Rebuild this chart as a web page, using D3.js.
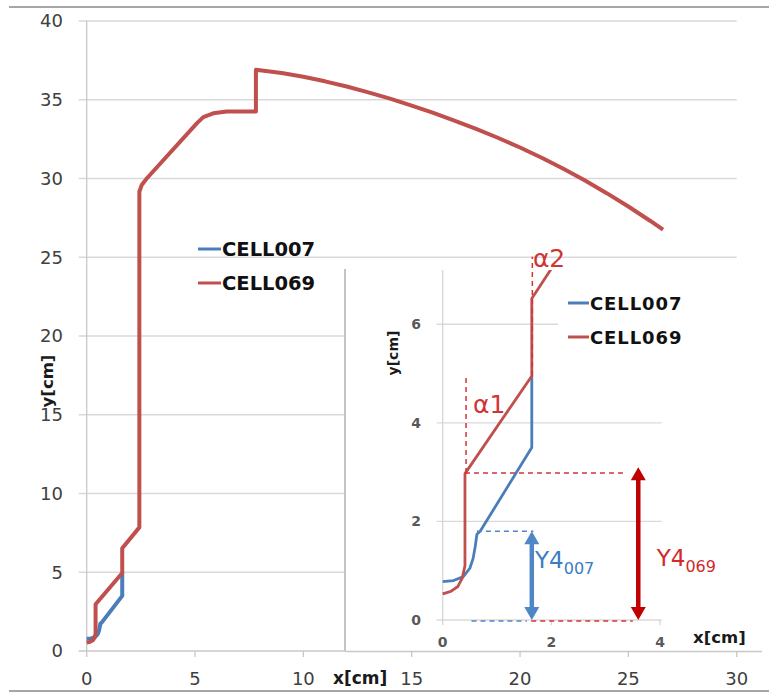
<!DOCTYPE html>
<html><head><meta charset="utf-8">
<script src="https://cdn.jsdelivr.net/npm/d3@7"></script>
<style>body{margin:0;background:#fff}svg{display:block}</style>
</head><body>
<script>
// ---- data (x[cm], y[cm]) ----
const cell069X = [0, 0.15, 0.28, 0.36, 0.41, 0.41, 1.64, 1.64, 2.43, 2.43, 2.54, 2.77, 5.08, 5.38, 5.84, 6.46, 7.81, 7.81, 9, 10, 11, 12, 13, 14, 15, 16, 17, 18, 19, 20, 21, 22, 23, 24, 25, 26, 26.6];
const cell069Y = [0.53, 0.58, 0.68, 0.85, 1.1, 2.97, 4.95, 6.52, 7.85, 29.16, 29.59, 30.0, 33.5, 33.9, 34.14, 34.25, 34.25, 36.9, 36.7, 36.46, 36.17, 35.84, 35.47, 35.07, 34.63, 34.16, 33.66, 33.13, 32.57, 31.97, 31.32, 30.62, 29.87, 29.07, 28.22, 27.32, 26.75];
const cell007X = [0, 0.2, 0.38, 0.5, 0.56, 0.6, 0.63, 0.69, 1.64, 1.64];
const cell007Y = [0.78, 0.8, 0.88, 1.05, 1.25, 1.5, 1.74, 1.8, 3.5, 4.95];
const seriesNames = ["CELL007", "CELL069"];
const mainXTicks = [0, 5, 10, 15, 20, 25, 30];
const mainYTicks = [0, 5, 10, 15, 20, 25, 30, 35, 40];
const insetXTicks = [0, 2, 4];
const insetYTicks = [0, 2, 4, 6];

const W = 769, H = 692;
const RED = "#c0504d", BLUE = "#4a7ebb";
const svg = d3.select("body").append("svg").attr("width", W).attr("height", H);
svg.append("rect").attr("width", W).attr("height", H).attr("fill", "#fff");
const font = "DejaVu Sans, Verdana, sans-serif";

// frame lines
svg.append("line").attr("x1", 9).attr("x2", W).attr("y1", 7).attr("y2", 7).attr("stroke", "#a6a6a6").attr("stroke-width", 2);
svg.append("line").attr("x1", 9).attr("x2", W).attr("y1", 691).attr("y2", 691).attr("stroke", "#a6a6a6").attr("stroke-width", 2);

const s007 = cell007X.map((x, i) => ({x, y: cell007Y[i]}));
const s069 = cell069X.map((x, i) => ({x, y: cell069Y[i]}));

// ---- main chart ----
const x = d3.scaleLinear().domain([0, 30]).range([86.7, 736.7]);
const y = d3.scaleLinear().domain([0, 40]).range([651, 21]);
const gMain = svg.append("g");
gMain.selectAll(".hg").data(mainYTicks.filter(d => d > 0)).join("line")
  .attr("x1", x(0) - 8).attr("x2", x(30)).attr("y1", d => y(d)).attr("y2", d => y(d))
  .attr("stroke", "#d9d9d9").attr("stroke-width", 1.3);
gMain.append("line").attr("x1", x(0)).attr("x2", x(0)).attr("y1", y(40)).attr("y2", y(0)).attr("stroke", "#c8c8c8").attr("stroke-width", 1.3);
gMain.append("line").attr("x1", x(0) - 8).attr("x2", 762).attr("y1", y(0)).attr("y2", y(0)).attr("stroke", "#c8c8c8").attr("stroke-width", 1.5);
gMain.selectAll(".xt").data(mainXTicks).join("line")
  .attr("x1", d => x(d)).attr("x2", d => x(d)).attr("y1", y(0)).attr("y2", y(0) + 6)
  .attr("stroke", "#c8c8c8").attr("stroke-width", 1.3);
gMain.selectAll(".yl").data(mainYTicks).join("text")
  .attr("x", 63).attr("y", d => y(d)).attr("dy", "0.36em").attr("text-anchor", "end")
  .attr("font-family", font).attr("font-size", 18).attr("fill", "#404040").text(d => d);
gMain.selectAll(".xl").data(mainXTicks).join("text")
  .attr("x", d => x(d)).attr("y", 685).attr("text-anchor", "middle")
  .attr("font-family", font).attr("font-size", 18).attr("fill", "#404040").text(d => d);
gMain.append("text").attr("x", 333).attr("y", 684).attr("font-family", font).attr("font-weight", "bold")
  .attr("font-size", 17).attr("fill", "#1a1a1a").text("x[cm]");
gMain.append("text").attr("transform", "translate(53,381) rotate(-90)").attr("text-anchor", "middle")
  .attr("font-family", font).attr("font-weight", "bold").attr("font-size", 16.5).attr("fill", "#1a1a1a").text("y[cm]");

const lineMain = d3.line().x(d => x(d.x)).y(d => y(d.y));
gMain.append("path").datum(s007).attr("d", lineMain).attr("fill", "none").attr("stroke", BLUE).attr("stroke-width", 4).attr("stroke-linejoin", "round");
gMain.append("path").datum(s069).attr("d", lineMain).attr("fill", "none").attr("stroke", RED).attr("stroke-width", 4).attr("stroke-linejoin", "round");

// main legend
const legMain = gMain.append("g");
[[BLUE, 249], [RED, 283]].forEach(([c, yy], i) => {
  legMain.append("line").attr("x1", 198).attr("x2", 221).attr("y1", yy).attr("y2", yy).attr("stroke", c).attr("stroke-width", 3);
  legMain.append("text").attr("x", 222).attr("y", yy + 7).attr("font-family", font).attr("font-weight", "bold")
    .attr("font-size", 19.5).attr("fill", "#111").text(seriesNames[i]);
});

// ---- inset ----
const gIn = svg.append("g");
gIn.append("rect").attr("x", 345).attr("y", 269).attr("width", 762 - 345).attr("height", 651 - 269).attr("fill", "#fff");
gIn.append("line").attr("x1", 345).attr("x2", 345).attr("y1", 269).attr("y2", 651).attr("stroke", "#c4c4c4").attr("stroke-width", 2);
gIn.append("line").attr("x1", 345).attr("x2", 762).attr("y1", 651.5).attr("y2", 651.5).attr("stroke", "#c8c8c8").attr("stroke-width", 1.5);
const xi = d3.scaleLinear().domain([0, 4]).range([442.7, 660]);
const yi = d3.scaleLinear().domain([0, 7.1]).range([620, 270]);
gIn.selectAll(".ig").data(insetYTicks).join("line")
  .attr("x1", xi(0) - 6).attr("x2", 661.7).attr("y1", d => yi(d)).attr("y2", d => yi(d))
  .attr("stroke", "#dadada").attr("stroke-width", 1.3);
gIn.append("line").attr("x1", xi(0)).attr("x2", xi(0)).attr("y1", 270).attr("y2", yi(0)).attr("stroke", "#d6d6d6").attr("stroke-width", 1.3);
gIn.selectAll(".ixt").data(insetXTicks).join("line")
  .attr("x1", d => xi(d)).attr("x2", d => xi(d)).attr("y1", yi(0)).attr("y2", yi(0) + 5)
  .attr("stroke", "#d6d6d6").attr("stroke-width", 1.3);
gIn.selectAll(".iyl").data(insetYTicks).join("text")
  .attr("x", 421).attr("y", d => yi(d)).attr("dy", "0.36em").attr("text-anchor", "end")
  .attr("font-family", font).attr("font-weight", "bold").attr("font-size", 14).attr("fill", "#595959").text(d => d);
gIn.selectAll(".ixl").data(insetXTicks).join("text")
  .attr("x", d => xi(d)).attr("y", 647).attr("text-anchor", "middle")
  .attr("font-family", font).attr("font-weight", "bold").attr("font-size", 14).attr("fill", "#595959").text(d => d);
gIn.append("text").attr("x", 693).attr("y", 643).attr("font-family", font).attr("font-weight", "bold")
  .attr("font-size", 16.5).attr("fill", "#1a1a1a").text("x[cm]");
gIn.append("text").attr("transform", "translate(398,353) rotate(-90)").attr("text-anchor", "middle")
  .attr("font-family", font).attr("font-weight", "bold").attr("font-size", 14).attr("fill", "#1a1a1a").text("y[cm]");

svg.append("clipPath").attr("id", "insetClip").append("rect")
  .attr("x", xi(0) - 3).attr("y", 270).attr("width", 661.7 - xi(0) + 3).attr("height", 620 - 270 + 3);
const lineIn = d3.line().x(d => xi(d.x)).y(d => yi(d.y));
const gInLines = gIn.append("g").attr("clip-path", "url(#insetClip)");

// annotations: dashed guides (behind the series)
const DRED = "#c00000", ABLUE = "#4f86c6", ARED = "#d03535";
const dashes = [
  {c: ARED, x1: 0.43, y1: 2.98, x2: 0.43, y2: 4.93},
  {c: ARED, x1: 1.65, y1: 4.95, x2: 1.65, y2: 7.37},
  {c: ARED, x1: 0.41, y1: 2.98, x2: 3.39, y2: 2.98},
  {c: ABLUE, x1: 0.63, y1: 1.8, x2: 1.67, y2: 1.8},
  {c: ABLUE, x1: 0.53, y1: -0.02, x2: 1.55, y2: -0.02},
  {c: ARED, x1: 1.63, y1: -0.02, x2: 3.5, y2: -0.02}
];
gIn.selectAll(".dash").data(dashes).join("line")
  .attr("x1", d => xi(d.x1)).attr("x2", d => xi(d.x2)).attr("y1", d => yi(d.y1)).attr("y2", d => yi(d.y2))
  .attr("stroke", d => d.c).attr("stroke-width", 1.5).attr("stroke-dasharray", "5,4");

gInLines.append("path").datum(s007).attr("d", lineIn).attr("fill", "none").attr("stroke", BLUE).attr("stroke-width", 2.8).attr("stroke-linejoin", "round");
gInLines.append("path").datum(s069).attr("d", lineIn).attr("fill", "none").attr("stroke", RED).attr("stroke-width", 2.8).attr("stroke-linejoin", "round");

// double arrows
function dblArrow(g, xv, yTop, yBot, color) {
  const px = xi(xv), t = yi(yTop), b = yi(yBot), hw = 7.5, hl = 13;
  g.append("line").attr("x1", px).attr("x2", px).attr("y1", t + hl - 2).attr("y2", b - hl + 2).attr("stroke", color).attr("stroke-width", 4.5);
  g.append("path").attr("d", `M${px},${t} L${px - hw},${t + hl} L${px + hw},${t + hl} Z`).attr("fill", color);
  g.append("path").attr("d", `M${px},${b} L${px - hw},${b - hl} L${px + hw},${b - hl} Z`).attr("fill", color);
}
dblArrow(gIn, 1.64, 1.8, 0, ABLUE);
dblArrow(gIn, 3.6, 3.1, 0, DRED);

// annotation texts
gIn.append("text").attr("x", xi(0.56)).attr("y", yi(4.19)).attr("font-family", font).attr("font-size", 25).attr("fill", ARED).text("α1");
gIn.append("text").attr("x", xi(1.66)).attr("y", yi(7.16)).attr("font-family", font).attr("font-size", 25).attr("fill", ARED).text("α2");
const t1 = gIn.append("text").attr("x", xi(1.70)).attr("y", yi(1.06)).attr("font-family", font).attr("fill", "#3a7dc2");
t1.append("tspan").attr("font-size", 23).text("Y4");
t1.append("tspan").attr("font-size", 16).attr("dy", 6).text("007");
const t2 = gIn.append("text").attr("x", xi(3.94)).attr("y", yi(1.1)).attr("font-family", font).attr("fill", "#d02a2a");
t2.append("tspan").attr("font-size", 23).text("Y4");
t2.append("tspan").attr("font-size", 16).attr("dy", 6).text("069");

// inset legend
gIn.append("rect").attr("x", 558).attr("y", 288).attr("width", 135).attr("height", 64).attr("fill", "#fff");
[[BLUE, 303], [RED, 337]].forEach(([c, yy], i) => {
  gIn.append("line").attr("x1", 568).attr("x2", 589).attr("y1", yy).attr("y2", yy).attr("stroke", c).attr("stroke-width", 3);
  gIn.append("text").attr("x", 590).attr("y", yy + 6.5).attr("font-family", font).attr("font-weight", "bold")
    .attr("font-size", 18).attr("letter-spacing", 0.9).attr("fill", "#111").text(seriesNames[i]);
});
</script>
</body></html>
